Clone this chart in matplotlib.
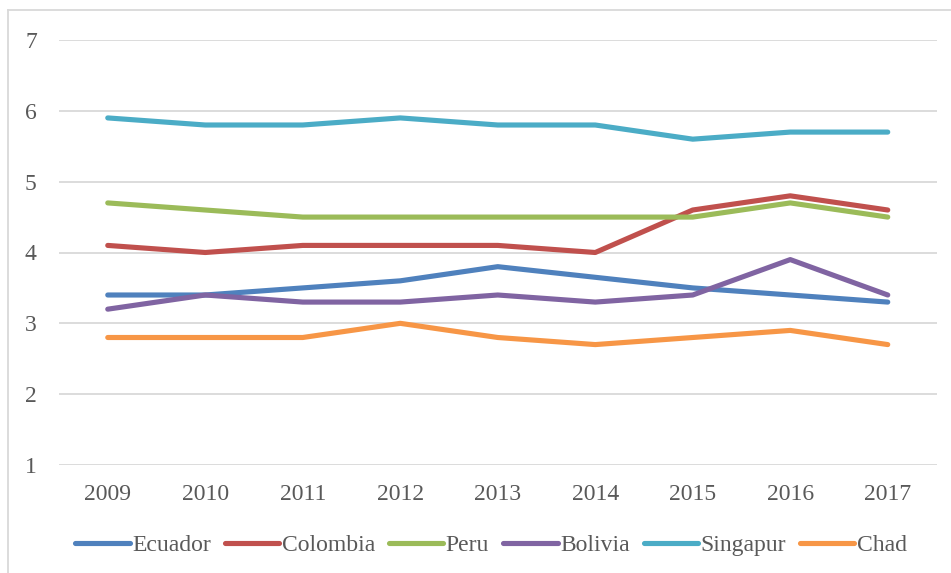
import matplotlib
matplotlib.use("Agg")
import matplotlib.pyplot as plt
from matplotlib.lines import Line2D

years = ["2009", "2010", "2011", "2012", "2013", "2014", "2015", "2016", "2017"]
ecuador = [3.4, 3.4, 3.5, 3.6, 3.8, 3.65, 3.5, 3.4, 3.3]
colombia = [4.1, 4.0, 4.1, 4.1, 4.1, 4.0, 4.6, 4.8, 4.6]
peru = [4.7, 4.6, 4.5, 4.5, 4.5, 4.5, 4.5, 4.7, 4.5]
bolivia = [3.2, 3.4, 3.3, 3.3, 3.4, 3.3, 3.4, 3.9, 3.4]
singapur = [5.9, 5.8, 5.8, 5.9, 5.8, 5.8, 5.6, 5.7, 5.7]
chad = [2.8, 2.8, 2.8, 3.0, 2.8, 2.7, 2.8, 2.9, 2.7]

series = [
    ("Ecuador", ecuador, "#4F81BD"),
    ("Colombia", colombia, "#C0504D"),
    ("Peru", peru, "#9BBB59"),
    ("Bolivia", bolivia, "#8064A2"),
    ("Singapur", singapur, "#4BACC6"),
    ("Chad", chad, "#F79646"),
]

plt.rcParams['font.family'] = ['Liberation Serif', 'DejaVu Serif']

fig = plt.figure(figsize=(9.51, 5.73), dpi=100)
ax = fig.add_axes([59/951, 1-465/573, (936.5-59)/951, (465-40)/573])

x = list(range(len(years)))
for name, vals, col in series:
    ax.plot(x, vals, color=col, lw=3.7, solid_capstyle='round',
            solid_joinstyle='round', label=name, zorder=3)

ax.set_xlim(-0.5, len(years) - 0.5)
ax.set_ylim(1, 7)
ax.set_yticks(range(1, 8))
ax.set_xticks(x)
ax.set_xticklabels(years)
ax.grid(axis='y', color='#D9D9D9', lw=1.3, zorder=0)
for s in ax.spines.values():
    s.set_visible(False)
ax.tick_params(axis='both', length=0, labelsize=17, colors='#595959')
ax.tick_params(axis='y', pad=16)
ax.tick_params(axis='x', pad=14)

handles = [Line2D([0], [0], color=c, lw=3.7, solid_capstyle='round') for _, _, c in series]
fig.legend(handles, [n for n, _, _ in series], loc='center',
           bbox_to_anchor=(491/951, 1-545/573), ncol=6, frameon=False,
           fontsize=17, handlelength=2.3, handletextpad=0.1, columnspacing=0.6,
           labelcolor='#595959')

# outer chart border (top and left visible)
fig.add_artist(Line2D([8/951, 1], [1-10/573, 1-10/573], transform=fig.transFigure,
                      color='#D9D9D9', lw=1.3))
fig.add_artist(Line2D([8/951, 8/951], [0, 1-10/573], transform=fig.transFigure,
                      color='#D9D9D9', lw=1.3))

fig.savefig("out.png", dpi=100)
